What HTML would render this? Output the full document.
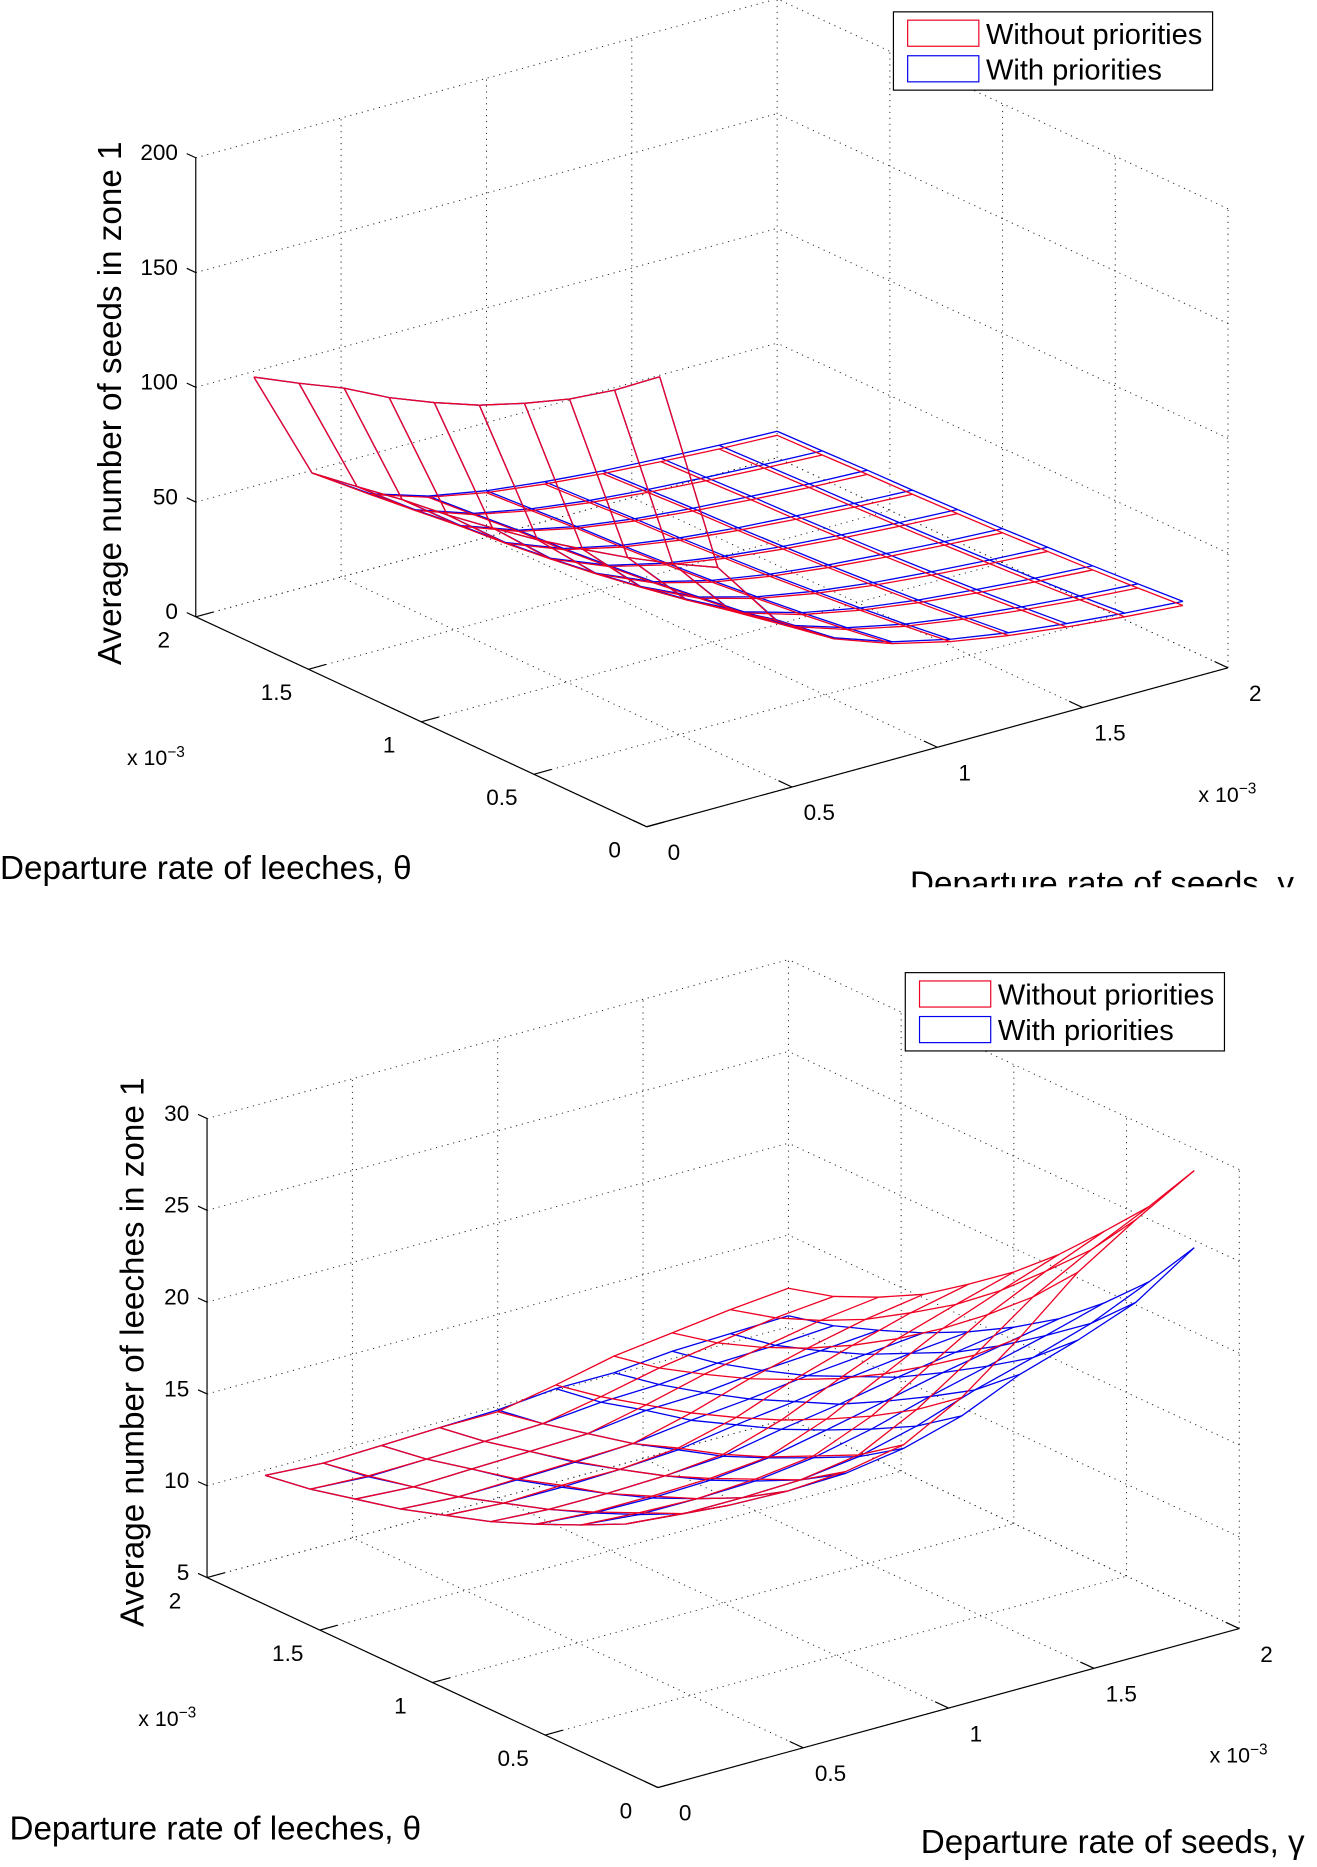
<!DOCTYPE html>
<html>
<head>
<meta charset="utf-8">
<style>
  html,body{margin:0;padding:0;background:#fff;}
  svg{display:block;}
  text{font-family:"Liberation Sans",Arial,sans-serif;fill:#000;}
</style>
</head>
<body>
<svg id="fig" xmlns="http://www.w3.org/2000/svg" width="1317" height="1867" viewBox="0 0 1110 1574" preserveAspectRatio="none">
  <defs>
    <clipPath id="topclip"><rect x="0" y="0" width="1110" height="748"/></clipPath>
  </defs>
  <g id="chart1"></g>
  <g id="chart2"></g>
</svg>
<script>
// ---- shared axes data ----
const thetaVals = [0.2,0.4,0.6,0.8,1.0,1.2,1.4,1.6,1.8,2.0];
const gammaVals = [0.2,0.4,0.6,0.8,1.0,1.2,1.4,1.6,1.8,2.0];
const planeTicks = [0,0.5,1,1.5,2];
const planeTickLabels = ["0","0.5","1","1.5","2"];
const legendLabels = ["Without priorities","With priorities"];

// ---- chart 1: seeds in zone 1 (rows = theta, cols = gamma) ----
const seedsZTicks = [0,50,100,150,200];
const seedsWithout = [
 [180,90,60,45,36,30,25.7,22.5,20,18],
 [165,82.5,55,41.3,33,27.5,23.6,20.6,18.3,16.5],
 [152,76,50.7,38,30.4,25.3,21.7,19,16.9,15.2],
 [141,70.5,47,35.3,28.2,23.5,20.1,17.6,15.7,14.1],
 [131,65.5,43.7,32.8,26.2,21.8,18.7,16.4,14.6,13.1],
 [123,61.5,41,30.8,24.6,20.5,17.6,15.4,13.7,12.3],
 [116,58,38.7,29,23.2,19.3,16.6,14.5,12.9,11.6],
 [111,55.5,37,27.8,22.2,18.5,15.9,13.9,12.3,11.1],
 [104,52,34.7,26,20.8,17.3,14.9,13,11.6,10.4],
 [97.5,48.8,32.5,24.4,19.5,16.3,13.9,12.2,10.8,9.8]
];
const seedsWith = [
 [180,90,60.3,45.5,36.8,31,26.9,24,21.6,19.8],
 [165,82.5,55.3,41.8,33.8,28.5,24.8,22.1,19.9,18.3],
 [152,76,51,38.5,31.2,26.3,22.9,20.5,18.5,17],
 [141,70.5,47.3,35.8,29,24.5,21.3,19.1,17.3,15.9],
 [131,65.5,44,33.3,27,22.8,19.9,17.9,16.2,14.9],
 [123,61.5,41.3,31.3,25.4,21.5,18.8,16.9,15.3,14.1],
 [116,58,39,29.5,24,20.3,17.8,16,14.5,13.4],
 [111,55.5,37.3,28.3,23,19.5,17.1,15.4,13.9,12.9],
 [104,52,35,26.5,21.6,18.3,16.1,14.5,13.2,12.2],
 [97.5,48.8,32.8,24.9,20.3,17.3,15.1,13.7,12.4,11.6]
];

// ---- chart 2: leeches in zone 1 ----
const leechZTicks = [5,10,15,20,25,30];
const leechWithout = [
 [17.8,17.5,17.4,17.6,18.2,19.9,22.3,25.0,27.0,28.8],
 [16.2,15.9,15.9,16.0,16.5,18.1,20.2,22.5,24.2,25.7],
 [15.0,14.8,14.7,14.9,15.3,16.6,18.5,20.4,21.9,23.2],
 [13.9,13.7,13.7,13.8,14.1,15.3,16.9,18.5,19.7,20.8],
 [12.9,12.7,12.7,12.8,13.1,14.1,15.5,16.8,17.8,18.7],
 [12.1,11.9,12.0,12.0,12.3,13.1,14.3,15.3,16.2,16.9],
 [11.3,11.1,11.2,11.3,11.4,12.2,13.2,14.0,14.7,15.2],
 [10.7,10.5,10.6,10.7,10.8,11.5,12.3,12.9,13.5,13.9],
 [10.1,9.95,10.0,10.1,10.2,10.8,11.5,12.0,12.5,12.8],
 [9.7,9.5,9.6,9.7,9.7,10.3,11.0,11.4,11.8,12.1]
];
const leechWith = [
 [17.8,17.5,17.4,17.5,18.0,18.9,20.3,21.3,22.5,24.6],
 [16.2,15.9,15.9,16.0,16.4,17.2,18.3,19.2,20.2,21.6],
 [15.0,14.7,14.7,14.8,15.2,15.9,16.8,17.6,18.4,19.3],
 [13.9,13.65,13.6,13.7,14.05,14.7,15.4,16.1,16.7,17.3],
 [12.9,12.7,12.7,12.8,13.0,13.6,14.1,14.7,15.2,15.7],
 [12.1,11.9,11.9,12.0,12.2,12.7,13.1,13.6,14.0,14.3],
 [11.3,11.1,11.15,11.25,11.4,11.8,12.1,12.5,12.8,13.1],
 [10.7,10.5,10.6,10.7,10.8,11.2,11.3,11.65,11.85,12.1],
 [10.1,9.9,10.0,10.1,10.2,10.5,10.6,10.9,11.0,11.2],
 [9.7,9.5,9.6,9.7,9.8,10.1,10.1,10.4,10.5,10.6]
];

const NS = "http://www.w3.org/2000/svg";
function mk(tag, attrs, parent){
  const e = document.createElementNS(NS, tag);
  for (const k in attrs) e.setAttribute(k, attrs[k]);
  parent.appendChild(e);
  return e;
}

function drawChart(g, cfg, zTicks, withoutGrid, withGrid, zTitle, prefix){
  const P = (t, gm, z) => [cfg.ox - 190*t + 245*gm, cfg.oy - 88.5*t - 67*gm - (z - cfg.zmin)*cfg.zs];
  const zmin = cfg.zmin, zmax = zTicks[zTicks.length-1];
  const dot = {stroke:"#222", "stroke-width":"0.8", "stroke-dasharray":"1 4", fill:"none"};
  const line = (a, b, st, name) => {
    const l = mk("line", Object.assign({x1:a[0].toFixed(1), y1:a[1].toFixed(1), x2:b[0].toFixed(1), y2:b[1].toFixed(1)}, st), g);
    
    
    return l;
  };
  planeTicks.forEach(v => {
    line(P(v,0,zmin), P(v,2,zmin), dot, prefix+"floor-grid-theta");
    line(P(0,v,zmin), P(2,v,zmin), dot, prefix+"floor-grid-gamma");
  });
  planeTicks.forEach(v => { if (v>0) line(P(2,v,zmin), P(2,v,zmax), dot, prefix+"wall-grid-vertical"); });
  zTicks.forEach(z => line(P(2,0,z), P(2,2,z), dot, prefix+"wall-grid-z"));
  planeTicks.forEach(v => { if (v<2) line(P(v,2,zmin), P(v,2,zmax), dot, prefix+"wall-grid-vertical"); });
  zTicks.forEach(z => line(P(0,2,z), P(2,2,z), dot, prefix+"wall-grid-z"));

  const solid = {stroke:"#000", "stroke-width":"1", fill:"none"};
  line(P(0,0,zmin), P(2,0,zmin), solid, prefix+"theta-axis");
  line(P(0,0,zmin), P(0,2,zmin), solid, prefix+"gamma-axis");
  line(P(2,0,zmin), P(2,0,zmax), solid, prefix+"z-axis");

  planeTicks.forEach((v,i) => {
    line(P(v,0,zmin), P(v,0.06,zmin), solid, prefix+"theta-tick");
    line(P(0,v,zmin), P(0.06,v,zmin), solid, prefix+"gamma-tick");
    const a = P(v,0,zmin);
    const t1 = mk("text", {x:(a[0]-27).toFixed(1), y:(a[1]+26).toFixed(1), "font-size":"19", "text-anchor":"middle"}, g);
    t1.textContent = planeTickLabels[i];
    
    
    const b = P(0,v,zmin);
    const t2 = mk("text", {x:(b[0]+23).toFixed(1), y:(b[1]+28).toFixed(1), "font-size":"19", "text-anchor":"middle"}, g);
    t2.textContent = planeTickLabels[i];
    
    
  });
  zTicks.forEach(z => {
    line(P(2,0,z), P(2.04,0,z), solid, prefix+"z-tick");
    const a = P(2,0,z);
    const t = mk("text", {x:(a[0]-15).toFixed(1), y:(a[1]+2).toFixed(1), "font-size":"19", "text-anchor":"end"}, g);
    t.textContent = String(z);
    
    
  });

  const drawMesh = (grid, color, name) => {
    const sg = mk("g", {stroke:color, "stroke-width":"1.1", fill:"none", "stroke-linejoin":"round"}, g);
    
    
    for (let i=0;i<thetaVals.length;i++){
      const pts = gammaVals.map((gm,j) => P(thetaVals[i], gm, grid[i][j]).map(n=>n.toFixed(1)).join(",")).join(" ");
      const pl = mk("polyline", {points:pts}, sg);
      
      
    }
    for (let j=0;j<gammaVals.length;j++){
      const pts = thetaVals.map((t,i) => P(t, gammaVals[j], grid[i][j]).map(n=>n.toFixed(1)).join(",")).join(" ");
      const pl = mk("polyline", {points:pts}, sg);
      
      
    }
  };
  drawMesh(withGrid, "#0000ee", prefix+"surface-with-priorities");
  drawMesh(withoutGrid, "#ee0022", prefix+"surface-without-priorities");

  const e1 = mk("text", {x:cfg.ox-438, y:cfg.oy-52, "font-size":"18"}, g);
  e1.innerHTML = 'x 10<tspan dy="-7" font-size="13">−3</tspan>';
  
  
  const e2 = mk("text", {x:cfg.ox+465, y:cfg.oy-21, "font-size":"18"}, g);
  e2.innerHTML = 'x 10<tspan dy="-7" font-size="13">−3</tspan>';
  
  

  const tt = mk("text", {x:cfg.thx, y:cfg.thy, "font-size":"28"}, g);
  tt.textContent = "Departure rate of leeches, θ";
  
  
  const gt = mk("text", {x:cfg.gmx, y:cfg.gmy, "font-size":"28"}, g);
  gt.textContent = "Departure rate of seeds, γ";
  
  
  if (cfg.clip) gt.setAttribute("clip-path","url(#topclip)");
  const zt = mk("text", {transform:"translate("+cfg.zx+","+cfg.zy+") rotate(-90)", "font-size":"28", "text-anchor":"middle"}, g);
  zt.textContent = zTitle;
  
  

  const lg = mk("g", {transform:"translate("+cfg.lx+","+cfg.ly+")"}, g);
  
  
  mk("rect", {x:0, y:0, width:269, height:66, fill:"#fff", stroke:"#000", "stroke-width":"1"}, lg);
  const cols = ["#ee0022","#0000ee"];
  legendLabels.forEach((lab,k) => {
    const sw = mk("rect", {x:12, y:7+30*k, width:60, height:22, fill:"none", stroke:cols[k], "stroke-width":"1"}, lg);
    
    
    const t = mk("text", {x:78, y:27+30*k, "font-size":"24.5"}, lg);
    t.textContent = lab;
    
    
  });
}

drawChart(document.getElementById("chart1"),
  {ox:545, oy:697, zmin:0, zs:1.935, thx:0, thy:741, gmx:767, gmy:754, clip:true, zx:102, zy:340, lx:753, ly:10},
  seedsZTicks, seedsWithout, seedsWith, "Average number of seeds in zone 1", "seeds-");
drawChart(document.getElementById("chart2"),
  {ox:554.5, oy:1507, zmin:5, zs:15.48, thx:8, thy:1551, gmx:776, gmy:1562, clip:false, zx:121, zy:1140, lx:763, ly:820},
  leechZTicks, leechWithout, leechWith, "Average number of leeches in zone 1", "leeches-");
</script>
</body>
</html>
